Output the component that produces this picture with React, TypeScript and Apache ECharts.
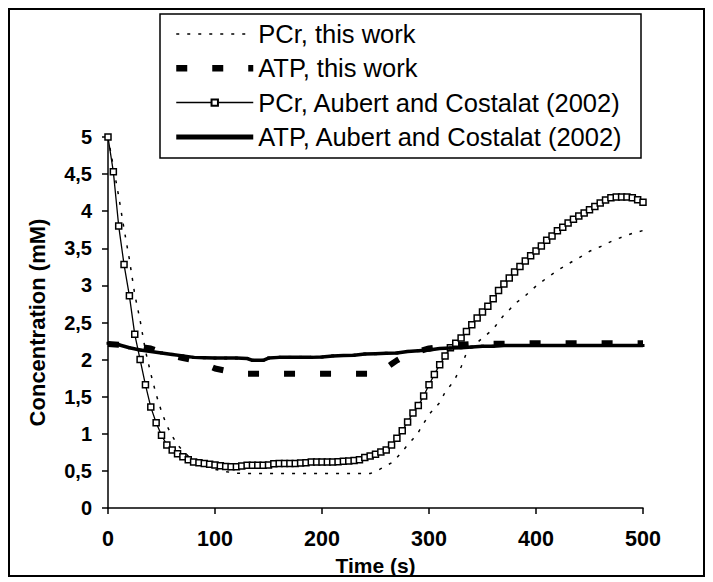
import React, { useEffect, useRef } from 'react';
import * as echarts from 'echarts';

// ---- Data ----
const pcrAubertTime = [
  0, 5, 10, 15, 20, 25, 30, 35, 40, 45, 50, 55, 60, 65, 70, 75, 80, 85, 90, 95,
  100, 105, 110, 115, 120, 125, 130, 135, 140, 145, 150, 155, 160, 165, 170, 175, 180, 185, 190, 195,
  200, 205, 210, 215, 220, 225, 230, 235, 240, 245, 250, 255, 260, 265, 270, 275, 280, 285, 290, 295,
  300, 305, 310, 315, 320, 325, 330, 335, 340, 345, 350, 355, 360, 365, 370, 375, 380, 385, 390, 395,
  400, 405, 410, 415, 420, 425, 430, 435, 440, 445, 450, 455, 460, 465, 470, 475, 480, 485, 490, 495, 500,
];
const pcrAubertValues = [
  5.0, 4.53, 3.8, 3.28, 2.86, 2.34, 2.0, 1.66, 1.36, 1.15, 0.98, 0.85, 0.78, 0.73, 0.69, 0.65, 0.62, 0.61, 0.6, 0.59,
  0.58, 0.57, 0.56, 0.555, 0.555, 0.565, 0.575, 0.575, 0.575, 0.575, 0.58, 0.595, 0.6, 0.6, 0.6, 0.6, 0.605, 0.61, 0.62, 0.62,
  0.62, 0.62, 0.62, 0.625, 0.63, 0.635, 0.64, 0.65, 0.68, 0.7, 0.725, 0.755, 0.78, 0.85, 0.94, 1.04, 1.16, 1.28, 1.38, 1.51,
  1.66, 1.8, 1.93, 2.05, 2.16, 2.22, 2.29, 2.38, 2.47, 2.56, 2.64, 2.72, 2.82, 2.93, 3.02, 3.1, 3.18, 3.255, 3.33, 3.4,
  3.465, 3.53, 3.61, 3.665, 3.735, 3.785, 3.84, 3.89, 3.935, 3.975, 4.02, 4.065, 4.11, 4.15, 4.18, 4.19, 4.19, 4.19, 4.18, 4.155, 4.12,
];

const pcrWorkTime = [
  0, 5, 10, 15, 20, 25, 30, 35, 40, 45, 50, 55, 60, 65, 70, 75, 80, 90, 100, 110, 120, 130,
  245, 250, 255, 260, 265, 270, 275, 280, 285, 290, 295, 300, 305, 310, 315, 320, 325, 330,
  335, 340, 345, 350, 355, 360, 365, 370, 375, 380, 390, 400, 410, 420, 430, 440, 450, 460, 470, 480, 490, 500,
];
const pcrWorkValues = [
  5.0, 4.6, 4.2, 3.76, 3.35, 2.88, 2.53, 2.12, 1.81, 1.53, 1.3, 1.11, 0.97, 0.85, 0.77, 0.7, 0.65, 0.57, 0.52, 0.49, 0.47, 0.465,
  0.465, 0.49, 0.53, 0.57, 0.61, 0.68, 0.76, 0.85, 0.93, 1.02, 1.14, 1.26, 1.34, 1.42, 1.56, 1.65, 1.76, 1.9,
  2.09, 2.17, 2.23, 2.29, 2.35, 2.41, 2.51, 2.6, 2.67, 2.75, 2.86, 2.99, 3.1, 3.2, 3.29, 3.37, 3.46, 3.52, 3.59, 3.65, 3.7, 3.74,
];

const atpWorkTime = [
  0, 10, 20, 30, 40, 50, 60, 70, 80, 90, 100, 110, 120, 130, 250, 255, 260, 265, 270, 275, 280,
  290, 300, 310, 320, 330, 340, 400, 500,
];
const atpWorkValues = [
  2.21, 2.2, 2.19, 2.17, 2.15, 2.1, 2.05, 2.02, 1.99, 1.94, 1.88, 1.85, 1.82, 1.81, 1.81, 1.84, 1.89, 1.94, 1.99, 2.03, 2.06,
  2.11, 2.15, 2.17, 2.19, 2.2, 2.21, 2.22, 2.22,
];

const atpAubertTime = [
  0, 10, 20, 30, 40, 50, 60, 70, 80, 90, 100, 110, 120, 130, 135, 145, 150, 160, 170, 180, 190,
  200, 210, 220, 230, 240, 250, 260, 270, 280, 290, 300, 310, 320, 330, 340, 350, 360, 370, 380, 390,
  400, 410, 420, 430, 440, 450, 460, 470, 480, 490, 500,
];
const atpAubertValues = [
  2.22, 2.2, 2.16, 2.13, 2.11, 2.09, 2.07, 2.05, 2.03, 2.025, 2.02, 2.02, 2.02, 2.015, 1.99, 1.99, 2.02, 2.03, 2.03, 2.03, 2.03,
  2.035, 2.05, 2.055, 2.06, 2.075, 2.08, 2.085, 2.09, 2.11, 2.12, 2.13, 2.15, 2.155, 2.16, 2.17, 2.18, 2.18, 2.19, 2.19, 2.19,
  2.19, 2.19, 2.19, 2.19, 2.19, 2.19, 2.19, 2.19, 2.19, 2.19, 2.19,
];

const seriesNames = [
  'PCr, this work',
  'ATP, this work',
  'PCr, Aubert and Costalat (2002)',
  'ATP, Aubert and Costalat (2002)',
];

const xAxisTitle = 'Time (s)';
const yAxisTitle = 'Concentration (mM)';

const pair = (t: number[], v: number[]) => t.map((x, i) => [x, v[i]]);

export default function App() {
  const ref = useRef<HTMLDivElement>(null);

  useEffect(() => {
    if (!ref.current) return;
    const chart = echarts.init(ref.current, undefined, { renderer: 'svg' });
    const font = '"Liberation Sans", Arial, sans-serif';
    const boldFont = { fontFamily: font, fontWeight: 'bold' as const, color: '#000' };

    chart.setOption({
      animation: false,
      backgroundColor: '#fff',
      grid: { left: 108, right: 70, top: 137, bottom: 74 },
      graphic: [
        {
          type: 'rect',
          z: 0,
          shape: { x: 9, y: 9, width: 695, height: 567 },
          style: { fill: 'none', stroke: '#000', lineWidth: 2 },
          silent: true,
        },
        {
          type: 'rect',
          z: 1,
          shape: { x: 160, y: 14, width: 481, height: 144 },
          style: { fill: '#fff', stroke: '#000', lineWidth: 1.5 },
          silent: true,
        },
      ],
      legend: {
        orient: 'vertical',
        left: 173,
        top: 19,
        padding: 0,
        z: 5,
        itemWidth: 77,
        itemHeight: 8,
        itemGap: 4.3,
        selectedMode: false,
        textStyle: { fontFamily: font, fontSize: 25.5, color: '#000', lineHeight: 30 },
        data: [
          { name: seriesNames[0], itemStyle: { opacity: 0 }, lineStyle: { width: 1.5 } },
          { name: seriesNames[1], itemStyle: { opacity: 0 }, lineStyle: { width: 6.5 } },
          { name: seriesNames[2], lineStyle: { width: 1.5 } },
          { name: seriesNames[3], itemStyle: { opacity: 0 }, lineStyle: { width: 5 } },
        ],
      },
      xAxis: {
        type: 'value',
        min: 0,
        max: 500,
        interval: 100,
        name: xAxisTitle,
        nameLocation: 'middle',
        nameGap: 47,
        nameTextStyle: { ...boldFont, fontSize: 21 },
        axisLine: { show: true, onZero: false, lineStyle: { color: '#000', width: 1.5 } },
        axisTick: { show: true, inside: false, length: 6, lineStyle: { color: '#000', width: 1.5 } },
        axisLabel: { ...boldFont, fontSize: 21.5, margin: 20 },
        splitLine: { show: false },
      },
      yAxis: {
        type: 'value',
        min: 0,
        max: 5,
        interval: 0.5,
        name: yAxisTitle,
        nameLocation: 'middle',
        nameRotate: 90,
        nameGap: 60,
        nameTextStyle: { ...boldFont, fontSize: 22 },
        axisLine: { show: true, onZero: false, lineStyle: { color: '#000', width: 1.5 } },
        axisTick: { show: true, inside: false, length: 6, lineStyle: { color: '#000', width: 1.5 } },
        axisLabel: {
          ...boldFont,
          fontSize: 20,
          margin: 16,
          formatter: (v: number) => String(v).replace('.', ','),
        },
        splitLine: { show: false },
      },
      series: [
        {
          name: seriesNames[0],
          type: 'line',
          data: pair(pcrWorkTime, pcrWorkValues),
          symbol: 'none',
          itemStyle: { color: '#000' },
          lineStyle: { color: '#000', width: 1.5, type: [3, 8] },
          z: 2,
        },
        {
          name: seriesNames[1],
          type: 'line',
          data: pair(atpWorkTime, atpWorkValues),
          symbol: 'none',
          itemStyle: { color: '#000' },
          lineStyle: { color: '#000', width: 6, type: [11, 25], cap: 'butt' },
          z: 2,
        },
        {
          name: seriesNames[2],
          type: 'line',
          data: pair(pcrAubertTime, pcrAubertValues),
          symbol: 'rect',
          symbolSize: 6,
          showAllSymbol: true,
          itemStyle: { color: '#fff', borderColor: '#000', borderWidth: 1.5 },
          lineStyle: { color: '#000', width: 1.3 },
          z: 3,
        },
        {
          name: seriesNames[3],
          type: 'line',
          data: pair(atpAubertTime, atpAubertValues),
          symbol: 'rect',
          symbolSize: 3,
          showAllSymbol: true,
          itemStyle: { color: '#000' },
          lineStyle: { color: '#000', width: 3.5 },
          z: 4,
        },
      ],
    });

    return () => chart.dispose();
  }, []);

  return (
    <div
      ref={ref}
      style={{ position: 'absolute', left: 0, top: 0, width: 713, height: 582 }}
    />
  );
}
